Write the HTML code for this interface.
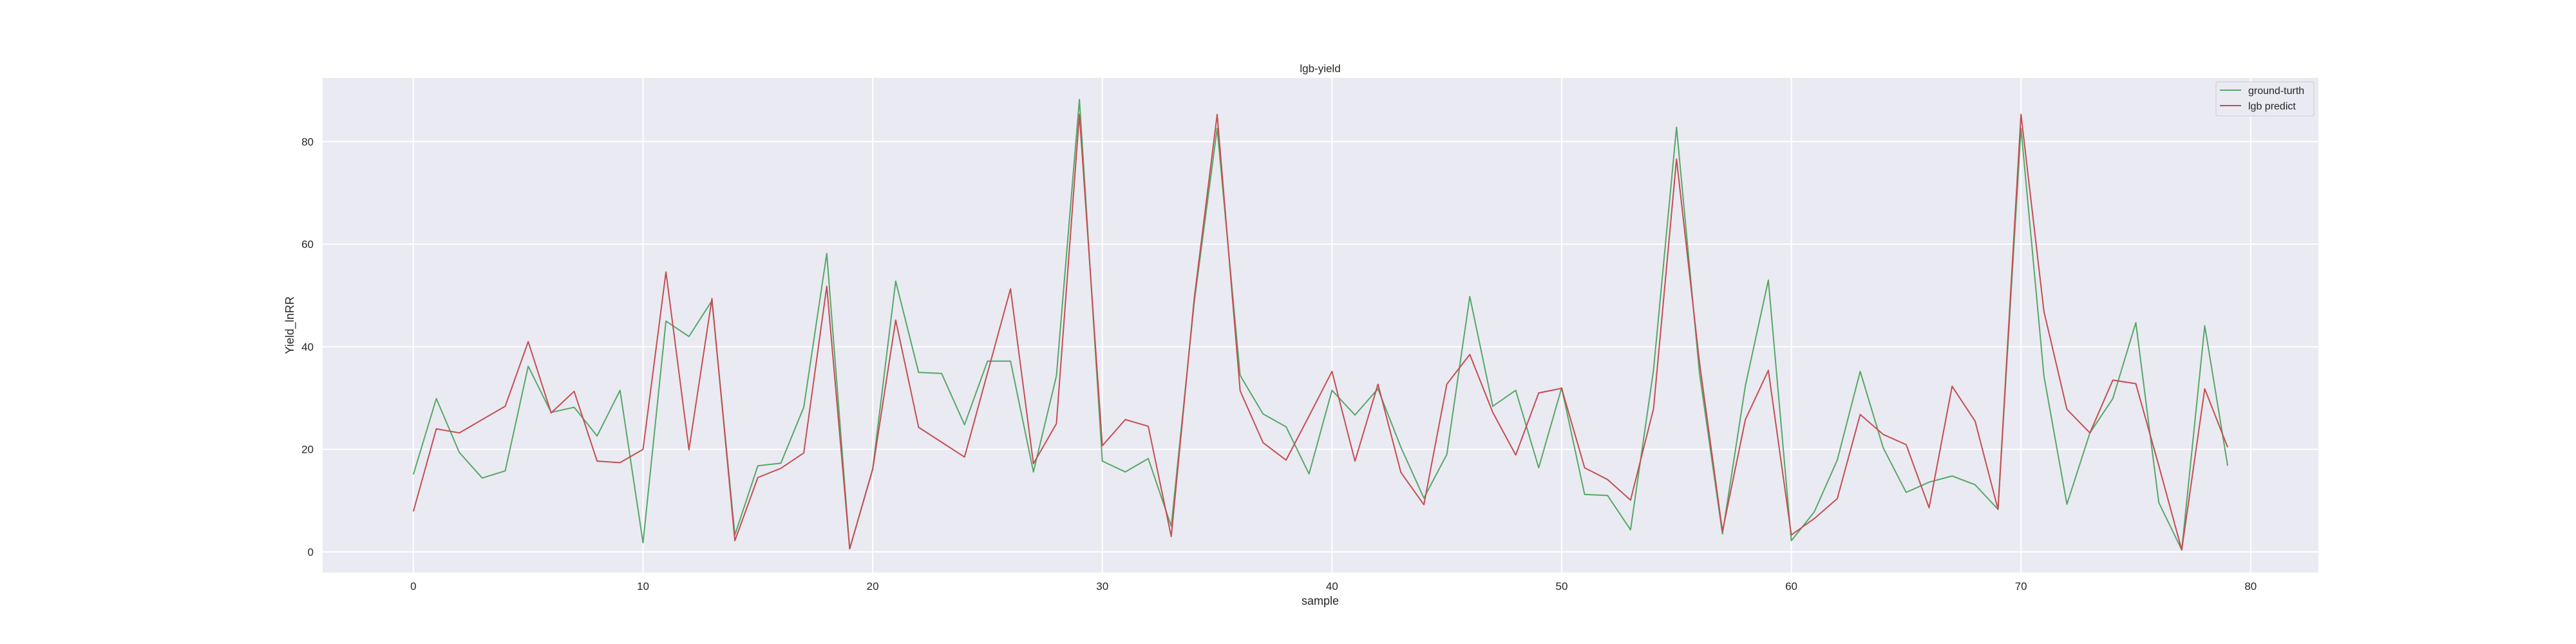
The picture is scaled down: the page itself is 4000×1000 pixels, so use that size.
<!DOCTYPE html>
<html><head><meta charset="utf-8"><style>
html,body{margin:0;padding:0;background:#fff;}
svg{display:block;font-family:"Liberation Sans",sans-serif;}
</style></head><body>
<svg id="chart" width="4000" height="1000" xmlns="http://www.w3.org/2000/svg">
<rect x="501" y="121" width="3099" height="768" fill="#eaeaf2"/>
<g id="grid"></g>
<g id="series"></g>
<g id="ticks"></g>
<text x="2050" y="112" text-anchor="middle" font-size="17" fill="#262626">lgb-yield</text>
<text x="2050" y="939" text-anchor="middle" font-size="18" fill="#262626">sample</text>
<text transform="translate(456,505) rotate(-90)" text-anchor="middle" font-size="18" fill="#262626">Yield_lnRR</text>
<g>
<rect x="3441" y="127" width="152" height="53" rx="3" fill="#eaeaf2" stroke="#cccccc" stroke-width="1"/>
<line x1="3447" y1="140" x2="3480" y2="140" stroke="#55a868" stroke-width="2"/>
<text x="3491" y="146" font-size="16" fill="#262626">ground-turth</text>
<line x1="3447" y1="164" x2="3480" y2="164" stroke="#c44e52" stroke-width="2"/>
<text x="3491" y="170" font-size="16" fill="#262626">lgb predict</text>
</g>
</svg>
<script>
const groundTruth=[15.1,29.9,19.4,14.4,15.8,36.2,27.2,28.2,22.6,31.5,1.8,45,42,49,3.3,16.8,17.3,28.2,58.2,0.6,16.2,52.8,35,34.8,24.8,37.2,37.2,15.6,34.3,88.2,17.7,15.6,18.2,5,48.7,82.6,34.4,26.9,24.4,15.2,31.5,26.7,31.8,20.4,10.5,19,49.8,28.4,31.5,16.4,32,11.2,11,4.3,35.5,82.8,34.9,3.5,32.4,53,2.2,7.8,17.9,35.2,20.3,11.6,13.6,14.8,13.1,8.3,82.6,34.3,9.3,23.2,29.9,44.7,9.6,0.4,44.1,16.8];
const lgbPredict=[7.9,24,23.2,25.8,28.4,41,27.1,31.3,17.7,17.4,20,54.6,19.9,49.4,2.2,14.5,16.3,19.3,51.8,0.6,16.1,45.2,24.3,21.4,18.5,34.9,51.3,17.2,25,85.3,20.7,25.8,24.5,3,49.4,85.3,31.4,21.3,17.9,26.5,35.2,17.7,32.7,15.5,9.2,32.7,38.5,27.2,18.9,31,31.9,16.4,14.1,10.1,27.9,76.6,37,4,25.8,35.4,3.3,6.5,10.4,26.8,22.9,20.9,8.6,32.3,25.5,8.3,85.3,46.9,27.8,23.2,33.5,32.8,16.8,0.4,31.8,20.4];
const xTicks=[0,10,20,30,40,50,60,70,80];
const yTicks=[0,20,40,60,80];
const L=501,R=3600,T=121,B=889;
const xMin=-3.95,xMax=82.95,yMin=-4.02,yMax=92.42;
const sx=v=>L+(v-xMin)/(xMax-xMin)*(R-L);
const sy=v=>B-(v-yMin)/(yMax-yMin)*(B-T);
const NS="http://www.w3.org/2000/svg";
const grid=document.getElementById('grid'),ticks=document.getElementById('ticks'),series=document.getElementById('series');
function mk(tag,parent,attrs){const e=document.createElementNS(NS,tag);for(const k in attrs)e.setAttribute(k,attrs[k]);parent.appendChild(e);return e;}
xTicks.forEach(t=>{
  const l=mk('line',grid,{x1:sx(t),x2:sx(t),y1:T,y2:B,stroke:'#ffffff','stroke-width':2});
  
  
  const tx=mk('text',ticks,{x:sx(t),y:916,'text-anchor':'middle','font-size':17,fill:'#262626'});
  tx.textContent=t;
  
  
});
yTicks.forEach(t=>{
  const l=mk('line',grid,{x1:L,x2:R,y1:sy(t),y2:sy(t),stroke:'#ffffff','stroke-width':2});
  
  
  const tx=mk('text',ticks,{x:487,y:sy(t)+6,'text-anchor':'end','font-size':17,fill:'#262626'});
  tx.textContent=t;
  
  
});
function path(arr,color){
  return arr.map((v,i)=>(i?'L':'M')+sx(i).toFixed(1)+','+sy(v).toFixed(1)).join(' ');
}
const g=mk('path',series,{d:path(groundTruth),fill:'none',stroke:'#55a868','stroke-width':2,'stroke-linejoin':'round'});


const p=mk('path',series,{d:path(lgbPredict),fill:'none',stroke:'#c44e52','stroke-width':2,'stroke-linejoin':'round'});


</script>
</body></html>
